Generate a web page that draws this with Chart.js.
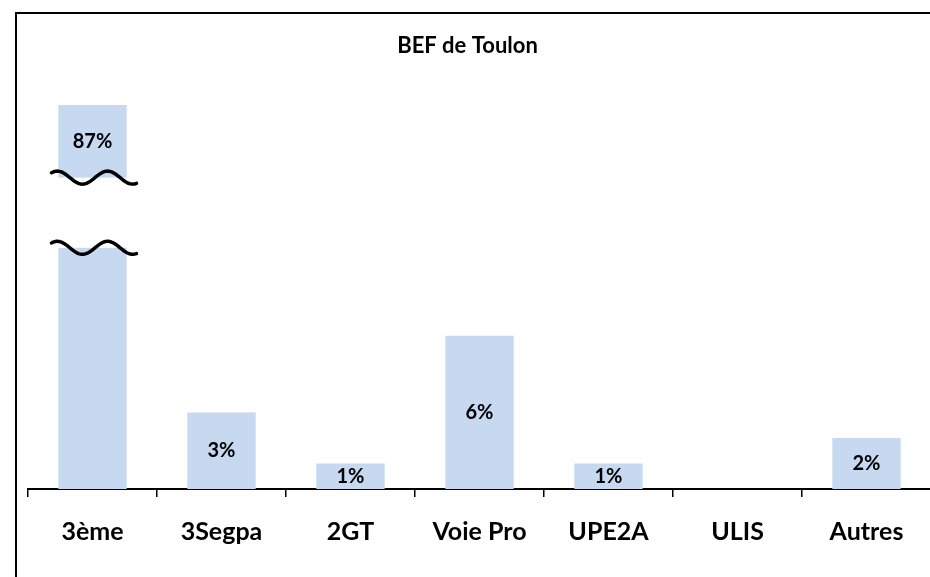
<!DOCTYPE html>
<html>
<head>
<meta charset="utf-8">
<script src="https://cdn.jsdelivr.net/npm/chart.js@4"></script>
<style>
  html, body { margin: 0; padding: 0; background: #fff; overflow: hidden; }
  #frame { position: absolute; left: 15px; top: 12px; width: 2000px; height: 2000px;
           border-left: 2px solid #000; border-top: 2px solid #000; }
  #wrap { position: absolute; left: 0; top: 0; width: 935px; height: 577px; }
</style>
</head>
<body>
<div id="frame"></div>
<div id="wrap"><canvas id="chart"></canvas></div>
<script>
// Catégories et valeurs (en %)
const categories = ["3ème", "3Segpa", "2GT", "Voie Pro", "UPE2A", "ULIS", "Autres"];
const values = [87, 3, 1, 6, 1, 0, 2];

// Axe coupé : la barre de 3ème est tronquée
const cutAt = 15.05;     // hauteur affichée de la barre coupée
const breakHigh = 12.2;  // vague du haut
const breakLow = 9.45;   // vague du bas

const shown = values.map(v => Math.min(v, cutAt));
const font = "Lato, Carlito, Calibri, sans-serif";

// Trace une vague centrée sur la barre
function wave(ctx, x, w, yMid) {
  const left = x - 0.6 * w, right = x + 0.65 * w;
  const period = 0.735 * w, crest = x + 0.22 * w, amp = 6.5;
  ctx.beginPath();
  for (let px = left; px <= right; px += 1) {
    const t = Math.PI / 2 + 2 * Math.PI * (px - crest) / period;
    const py = yMid - amp * Math.sin(t);
    if (px === left) ctx.moveTo(px, py); else ctx.lineTo(px, py);
  }
}

const breakAndLabels = {
  id: "breakAndLabels",
  afterDatasetsDraw(chart) {
    const ctx = chart.ctx;
    const y = chart.scales.y;
    const meta = chart.getDatasetMeta(0);
    meta.data.forEach((bar, i) => {
      const w = bar.width;
      if (values[i] > cutAt) {
        const yHi = y.getPixelForValue(breakHigh);
        const yLo = y.getPixelForValue(breakLow);
        // zone blanche entre les vagues
        ctx.save();
        ctx.fillStyle = "#fff";
        ctx.fillRect(bar.x - 0.6 * w, yHi, 1.25 * w, yLo - yHi);
        ctx.strokeStyle = "#000";
        ctx.lineWidth = 3.5;
        ctx.lineCap = "round";
        wave(ctx, bar.x, w, yHi); ctx.stroke();
        wave(ctx, bar.x, w, yLo); ctx.stroke();
        ctx.restore();
      }
      if (values[i] > 0) {
        let cy;
        if (values[i] > cutAt) cy = (bar.y + y.getPixelForValue(breakHigh)) / 2;
        else cy = (bar.y + bar.base) / 2;
        ctx.save();
        ctx.font = "bold 20px " + font;
        ctx.fillStyle = "#000";
        ctx.textAlign = "center";
        ctx.textBaseline = "middle";
        ctx.fillText(values[i] + "%", bar.x, cy);
        ctx.restore();
      }
    });
  }
};

new Chart(document.getElementById("chart"), {
  type: "bar",
  plugins: [breakAndLabels],
  data: {
    labels: categories,
    datasets: [{
      data: shown,
      backgroundColor: "#c6d9f0",
      barPercentage: 0.53,
      categoryPercentage: 1
    }]
  },
  options: {
    responsive: true,
    maintainAspectRatio: false,
    animation: false,
    layout: { padding: { left: 4, right: 4, top: 0, bottom: 10 } },
    plugins: {
      legend: { display: false },
      tooltip: { enabled: false },
      title: {
        display: true,
        text: "BEF de Toulon",
        color: "#000",
        font: { family: font, size: 22, weight: "bold" },
        padding: { top: 33, bottom: 34 }
      }
    },
    scales: {
      x: {
        offset: true,
        grid: {
          offset: true,
          drawOnChartArea: false,
          drawTicks: true,
          tickLength: 8,
          color: "#000",
          lineWidth: 1.5
        },
        border: { display: true, color: "#000", width: 2 },
        ticks: {
          color: "#000",
          padding: 20,
          font: { family: font, size: 25, weight: "bold" }
        }
      },
      y: {
        min: 0,
        max: 15.5,
        grid: { display: false },
        border: { display: false },
        ticks: { display: false },
        // axe invisible : réserve seulement la marge gauche
        afterFit: (scale) => { scale.width = 24; }
      }
    }
  }
});
</script>
</body>
</html>
